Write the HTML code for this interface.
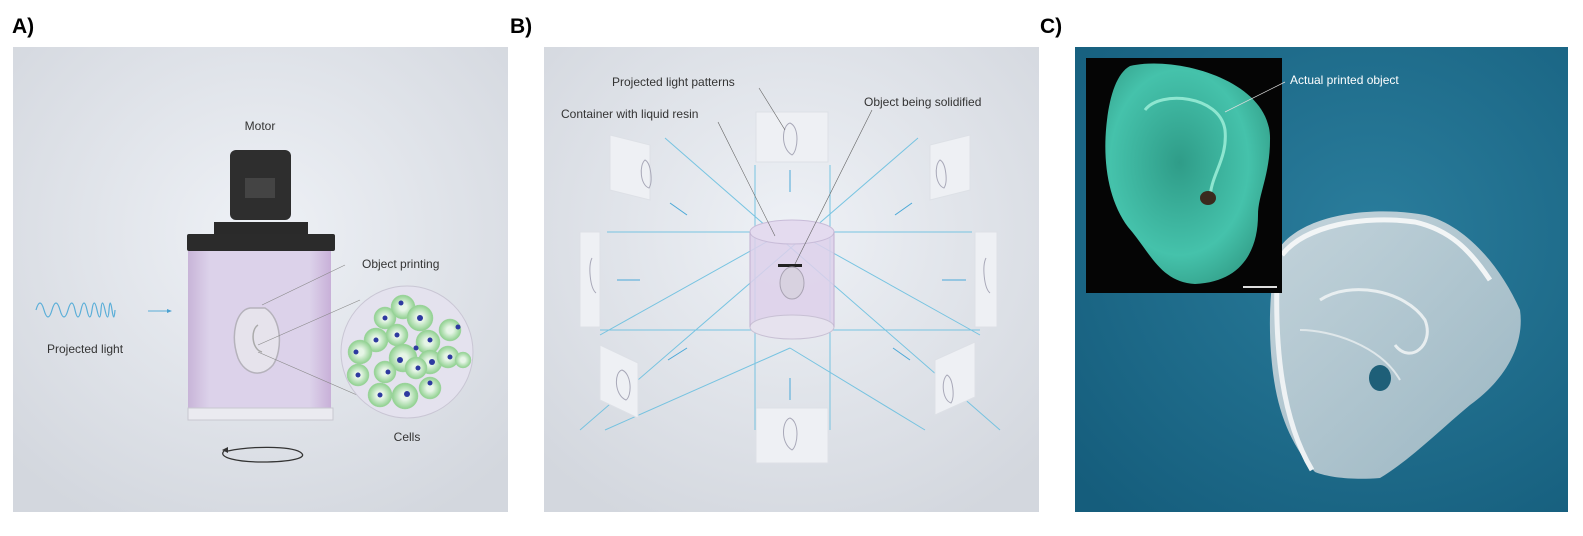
<!DOCTYPE html>
<html><head><meta charset="utf-8"><style>
body{margin:0;width:1583px;height:531px;background:#fff;overflow:hidden;font-family:"Liberation Sans",sans-serif}
</style></head><body>
<svg width="1583" height="531" viewBox="0 0 1583 531" xmlns="http://www.w3.org/2000/svg" font-family="Liberation Sans, sans-serif">
<defs>
<radialGradient id="bgA" cx="0.5" cy="0.4" r="0.7"><stop offset="0" stop-color="#eef1f6"/><stop offset="1" stop-color="#d3d7de"/></radialGradient>
<linearGradient id="liq" x1="0" x2="1"><stop offset="0" stop-color="#c8b4d8"/><stop offset="0.15" stop-color="#dcd2ea"/><stop offset="0.85" stop-color="#dcd2ea"/><stop offset="1" stop-color="#c8b0d8"/></linearGradient>
<radialGradient id="cell" cx="0.5" cy="0.5" r="0.5"><stop offset="0.3" stop-color="#e6f5e6"/><stop offset="1" stop-color="#8ed08e"/></radialGradient>
<radialGradient id="bgC" cx="0.6" cy="0.4" r="0.8"><stop offset="0" stop-color="#2a7d9c"/><stop offset="1" stop-color="#155d7c"/></radialGradient>
<radialGradient id="greenEar" cx="0.45" cy="0.45" r="0.6"><stop offset="0" stop-color="#2f9c88"/><stop offset="0.7" stop-color="#45c2ab"/><stop offset="1" stop-color="#35a38d"/></radialGradient>
<linearGradient id="earC" x1="0" y1="0" x2="1" y2="1"><stop offset="0" stop-color="#d4dde2"/><stop offset="1" stop-color="#a9bfc9"/></linearGradient>
</defs>

<text x="12" y="33" font-size="21" font-weight="bold">A)</text>
<text x="510" y="33" font-size="21" font-weight="bold">B)</text>
<text x="1040" y="33" font-size="21" font-weight="bold">C)</text>

<!-- Panel A -->
<rect x="13" y="47" width="495" height="465" fill="url(#bgA)"/>
<text x="260" y="130" font-size="12" fill="#333" text-anchor="middle">Motor</text>
<rect x="230" y="150" width="61" height="70" rx="6" fill="#2e2e2e"/>
<rect x="245" y="178" width="30" height="20" fill="#444"/>
<rect x="214" y="222" width="94" height="12" fill="#2a2a2a"/>
<rect x="187" y="234" width="148" height="17" rx="2" fill="#2b2b2b"/>
<rect x="188" y="251" width="143" height="163" fill="url(#liq)"/>
<rect x="188" y="408" width="145" height="12" fill="#eaeaf0" stroke="#c8c8d0"/>
<path d="M250 308 C236 310 230 335 238 358 C245 375 262 378 273 365 C283 350 282 318 265 308 Z" fill="#e6e3ec" stroke="#b5b2bb" stroke-width="1.5"/>
<path d="M258 325 C250 330 252 350 262 352" fill="none" stroke="#aaa" stroke-width="1.5"/>
<line x1="262" y1="305" x2="345" y2="265" stroke="#888" stroke-width="0.6"/>
<line x1="258" y1="345" x2="360" y2="300" stroke="#888" stroke-width="0.6"/>
<line x1="258" y1="352" x2="380" y2="405" stroke="#888" stroke-width="0.6"/>
<text x="362" y="268" font-size="12" fill="#333">Object printing</text>
<circle cx="407" cy="352" r="66" fill="#e4e2ee" stroke="#c9c6d4"/>
<g fill="url(#cell)" stroke="#9fd39f" stroke-width="0.5">
<circle cx="385" cy="318" r="11"/><circle cx="403" cy="307" r="12"/><circle cx="420" cy="318" r="13"/><circle cx="376" cy="340" r="12"/><circle cx="397" cy="335" r="11"/><circle cx="428" cy="342" r="12"/><circle cx="450" cy="330" r="11"/><circle cx="360" cy="352" r="12"/><circle cx="403" cy="358" r="14"/><circle cx="430" cy="362" r="12"/><circle cx="416" cy="368" r="11"/><circle cx="448" cy="357" r="11"/><circle cx="358" cy="375" r="11"/><circle cx="385" cy="372" r="11"/><circle cx="380" cy="395" r="12"/><circle cx="405" cy="396" r="13"/><circle cx="430" cy="388" r="11"/><circle cx="463" cy="360" r="8"/>
</g>
<g fill="#2e3aa0">
<circle cx="385" cy="318" r="2.5"/><circle cx="401" cy="303" r="2.5"/><circle cx="420" cy="318" r="3"/><circle cx="376" cy="340" r="2.5"/><circle cx="397" cy="335" r="2.5"/><circle cx="430" cy="340" r="2.5"/><circle cx="458" cy="327" r="2.5"/><circle cx="356" cy="352" r="2.5"/><circle cx="400" cy="360" r="3"/><circle cx="432" cy="362" r="3"/><circle cx="418" cy="368" r="2.5"/><circle cx="450" cy="357" r="2.5"/><circle cx="358" cy="375" r="2.5"/><circle cx="388" cy="372" r="2.5"/><circle cx="380" cy="395" r="2.5"/><circle cx="407" cy="394" r="3"/><circle cx="430" cy="383" r="2.5"/><circle cx="416" cy="348" r="2.5"/>
</g>
<text x="407" y="441" font-size="12" fill="#333" text-anchor="middle">Cells</text>
<path d="M225 450 C215 458 240 462 262 462 C290 462 310 458 300 452 C290 446 250 446 228 451" fill="none" stroke="#333" stroke-width="1.3"/>
<path d="M222 450 l6 -3 l0 6 z" fill="#333"/>
<path d="M36 310 q4 -14 8 0 t8 0 t8 0 t8 0 t7 0 t6 0 t6 0 t5 0 t5 0 t4 0 t4 0 t4 0 t3 0 t3 0" fill="none" stroke="#5aaed8" stroke-width="1.2"/>
<line x1="148" y1="311" x2="168" y2="311" stroke="#5aaed8"/><path d="M172 311 l-5 -2 v4z" fill="#4aa0d0"/>
<text x="47" y="353" font-size="12" fill="#333">Projected light</text>

<!-- Panel B -->
<rect x="544" y="47" width="495" height="465" fill="url(#bgA)"/>
<g stroke="#6cc0e0" stroke-width="1" fill="none" opacity="0.9">
<line x1="607" y1="232" x2="972" y2="232"/><line x1="600" y1="330" x2="980" y2="330"/>
<line x1="755" y1="165" x2="755" y2="430"/><line x1="830" y1="165" x2="830" y2="430"/>
<line x1="665" y1="138" x2="1000" y2="430"/><line x1="918" y1="138" x2="580" y2="430"/>
<line x1="605" y1="430" x2="790" y2="348"/><line x1="790" y1="348" x2="925" y2="430"/>
<line x1="600" y1="335" x2="770" y2="240"/><line x1="980" y1="335" x2="810" y2="240"/>
</g>
<g fill="#eef0f4" stroke="#dde0e6">
<rect x="756" y="112" width="72" height="50"/>
<path d="M610 135 l40 10 v55 l-40 -10z"/><path d="M930 145 l40 -10 v55 l-40 10z"/>
<path d="M580 232 h20 v95 h-20z"/><path d="M975 232 h22 v95 h-22z"/>
<path d="M600 345 l38 18 v55 l-38 -18z"/><path d="M935 360 l40 -18 v55 l-40 18z"/>
<rect x="756" y="408" width="72" height="55"/>
</g>
<g fill="none" stroke="#a8a8b8" stroke-width="1">
<path d="M790 123 c-8 2 -10 25 2 32 c6 -4 8 -28 -2 -32z"/><path d="M645 160 c-6 5 -5 25 4 28 c4 -6 2 -25 -4 -28z"/><path d="M940 160 c-6 5 -5 25 4 28 c4 -6 2 -25 -4 -28z"/>
<path d="M592 258 c-4 8 -2 30 4 35"/><path d="M986 258 c-4 8 -2 30 4 35"/>
<path d="M622 370 c-8 2 -8 25 4 30 c6 -4 6 -26 -4 -30z"/><path d="M947 375 c-6 5 -5 25 4 28 c4 -6 2 -25 -4 -28z"/><path d="M790 418 c-8 2 -10 25 2 32 c6 -4 8 -28 -2 -32z"/>
</g>
<g stroke="#4aa8d8" stroke-width="1"><line x1="790" y1="170" x2="790" y2="192"/><line x1="670" y1="203" x2="687" y2="215"/><line x1="912" y1="203" x2="895" y2="215"/><line x1="617" y1="280" x2="640" y2="280"/><line x1="966" y1="280" x2="942" y2="280"/><line x1="668" y1="360" x2="687" y2="348"/><line x1="910" y1="360" x2="893" y2="348"/><line x1="790" y1="400" x2="790" y2="378"/></g>
<rect x="750" y="232" width="84" height="95" fill="#ddd0ea" opacity="0.85"/>
<ellipse cx="792" cy="232" rx="42" ry="12" fill="#e4dbef" stroke="#c8bcd8"/>
<ellipse cx="792" cy="327" rx="42" ry="12" fill="#e6e2ee" stroke="#c8c0d4"/>
<line x1="750" y1="232" x2="750" y2="327" stroke="#c0b0d0"/><line x1="834" y1="232" x2="834" y2="327" stroke="#c0b0d0"/>
<rect x="778" y="264" width="24" height="3" fill="#222"/>
<ellipse cx="792" cy="283" rx="12" ry="16" fill="#d8d2e0" stroke="#a9a3b3"/>
<g stroke="#666" stroke-width="0.6"><line x1="759" y1="88" x2="785" y2="130"/><line x1="718" y1="122" x2="775" y2="236"/><line x1="872" y1="110" x2="795" y2="264"/></g>
<g font-size="12" fill="#333"><text x="612" y="86">Projected light patterns</text><text x="561" y="118">Container with liquid resin</text><text x="864" y="106">Object being solidified</text></g>

<!-- Panel C -->
<rect x="1075" y="47" width="493" height="465" fill="url(#bgC)"/>
<path d="M1278 250 C1300 215 1370 205 1425 215 C1465 225 1500 265 1520 310 C1525 345 1505 380 1470 405 C1440 430 1410 460 1380 478 C1355 480 1330 478 1315 472 C1295 450 1280 420 1274 380 C1268 340 1268 290 1278 250Z" fill="url(#earC)" opacity="0.9"/>
<path d="M1282 255 C1305 225 1365 215 1415 222 C1450 230 1470 250 1490 280" fill="none" stroke="#f2f5f6" stroke-width="5"/>
<path d="M1277 280 C1275 350 1282 420 1312 470" fill="none" stroke="#eef2f4" stroke-width="5"/>
<path d="M1320 300 C1350 280 1405 290 1425 320 C1435 345 1410 365 1395 345" fill="none" stroke="#e8eef0" stroke-width="3"/>
<path d="M1300 330 C1330 330 1380 345 1400 380" fill="none" stroke="#dfe7ea" stroke-width="2"/>
<ellipse cx="1380" cy="378" rx="11" ry="13" fill="#1e5f78"/>
<rect x="1086" y="58" width="196" height="235" fill="#050505"/>
<path d="M1130 66 C1175 55 1272 80 1270 140 C1270 175 1258 195 1258 215 C1258 250 1242 282 1195 284 C1160 282 1150 252 1128 227 C1108 200 1102 160 1107 120 C1110 95 1117 73 1130 66Z" fill="url(#greenEar)"/>
<path d="M1145 110 C1160 90 1220 95 1225 130 C1228 160 1210 175 1210 200" fill="none" stroke="#8ee6d0" stroke-width="3"/>
<ellipse cx="1208" cy="198" rx="8" ry="7" fill="#3a2a1e"/>
<rect x="1243" y="286" width="34" height="2" fill="#ddd"/>
<line x1="1225" y1="112" x2="1285" y2="82" stroke="#ddd" stroke-width="0.7"/>
<text x="1290" y="84" font-size="12" fill="#fff">Actual printed object</text>
</svg>
</body></html>
